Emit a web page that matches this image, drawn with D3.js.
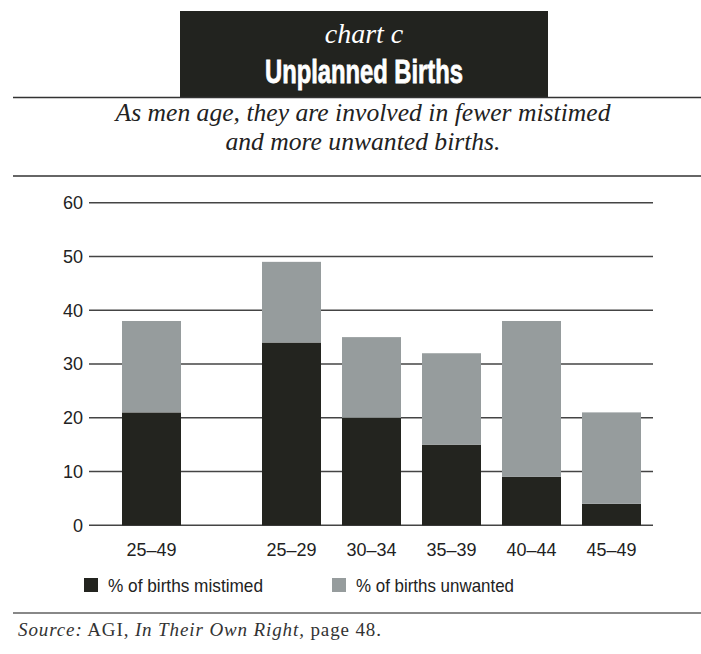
<html lang="en">
<head>
    <meta charset="UTF-8">
    <title>Unplanned Births</title>
    <script src="https://d3js.org/d3.v7.min.js"></script>
    <style>
        body, html {
            margin: 0;
            padding: 0;
            background: #fff;
        }
        .serif { font-family: "Liberation Serif", "Times New Roman", Times, "Noto Serif", serif; }
        .sans { font-family: "Liberation Sans", Arial, sans-serif; }
    </style>
</head>
<body>
<div id="chart"></div>
<script>
    // data
    const ageGroups = ["25–49", "25–29", "30–34", "35–39", "40–44", "45–49"];
    const mistimed = [21, 34, 20, 15, 9, 4];
    const unwanted = [17, 15, 15, 17, 29, 17];
    const yTicks = [0, 10, 20, 30, 40, 50, 60];
    const seriesNames = ["% of births mistimed", "% of births unwanted"];
    const seriesColors = ["#23241f", "#969c9d"];

    const width = 701, height = 654;
    const svg = d3.select("#chart").append("svg")
        .attr("width", width)
        .attr("height", height);

    // header box
    svg.append("rect")
        .attr("x", 180).attr("y", 11)
        .attr("width", 368).attr("height", 86)
        .attr("fill", "#22231f");
    svg.append("text")
        .attr("class", "serif")
        .attr("x", 364).attr("y", 43)
        .attr("text-anchor", "middle")
        .attr("font-style", "italic")
        .attr("font-size", 28)
        .attr("fill", "#fff")
        .text("chart c");
    svg.append("text")
        .attr("class", "sans")
        .attr("x", 364).attr("y", 83)
        .attr("text-anchor", "middle")
        .attr("font-weight", "bold")
        .attr("font-size", 34)
        .attr("textLength", 198)
        .attr("lengthAdjust", "spacingAndGlyphs")
        .attr("fill", "#fff")
        .attr("stroke", "#fff")
        .attr("stroke-width", 0.8)
        .text("Unplanned Births");

    // rules
    svg.append("line")
        .attr("x1", 13).attr("x2", width).attr("y1", 97.5).attr("y2", 97.5)
        .attr("stroke", "#333").attr("stroke-width", 1.5);
    svg.append("line")
        .attr("x1", 13).attr("x2", width).attr("y1", 176).attr("y2", 176)
        .attr("stroke", "#333").attr("stroke-width", 1.5);
    svg.append("line")
        .attr("x1", 13).attr("x2", width).attr("y1", 613).attr("y2", 613)
        .attr("stroke", "#888").attr("stroke-width", 2);

    // subtitle
    const subLines = ["As men age, they are involved in fewer mistimed", "and more unwanted births."];
    const subWidths = [495, 275];
    svg.selectAll(".sub")
        .data(subLines)
        .enter().append("text")
        .attr("class", "sub serif")
        .attr("x", 363)
        .attr("y", (d, i) => 121 + i * 29)
        .attr("text-anchor", "middle")
        .attr("font-style", "italic")
        .attr("font-size", 25)
        .attr("fill", "#222")
        .attr("textLength", (d, i) => subWidths[i])
        .attr("lengthAdjust", "spacingAndGlyphs")
        .text(d => d);

    // scales
    const y = d3.scaleLinear().domain([0, 60]).range([525.3, 202.7]);
    const x = d3.scaleBand().domain(ageGroups).range([0, 459]).paddingInner(21 / 80);
    const groupGap = 60;
    const barX = (d, i) => 122 + x(d) + (i > 0 ? groupGap : 0);

    // gridlines + y labels
    const grid = svg.append("g");
    grid.selectAll("line")
        .data(yTicks)
        .enter().append("line")
        .attr("x1", 89).attr("x2", 653)
        .attr("y1", d => y(d)).attr("y2", d => y(d))
        .attr("stroke", "#444").attr("stroke-width", 1.5);
    grid.selectAll("text")
        .data(yTicks)
        .enter().append("text")
        .attr("class", "sans")
        .attr("x", 83)
        .attr("y", d => y(d))
        .attr("dy", "0.36em")
        .attr("text-anchor", "end")
        .attr("font-size", 18)
        .attr("fill", "#222")
        .text(d => d);

    // stacked bars
    const stackData = ageGroups.map((g, i) => ({ group: g, mistimed: mistimed[i], unwanted: unwanted[i] }));
    const stack = d3.stack().keys(["mistimed", "unwanted"]);
    const layers = stack(stackData);

    svg.selectAll(".layer")
        .data(layers)
        .enter().append("g")
        .attr("class", "layer")
        .attr("fill", (d, i) => seriesColors[i])
        .selectAll("rect")
        .data(d => d)
        .enter().append("rect")
        .attr("x", (d, i) => barX(d.data.group, i))
        .attr("y", d => y(d[1]))
        .attr("width", x.bandwidth())
        .attr("height", d => y(d[0]) - y(d[1]));

    // x labels
    svg.selectAll(".xlab")
        .data(ageGroups)
        .enter().append("text")
        .attr("class", "xlab sans")
        .attr("x", (d, i) => barX(d, i) + x.bandwidth() / 2)
        .attr("y", 556)
        .attr("text-anchor", "middle")
        .attr("font-size", 18)
        .attr("fill", "#222")
        .text(d => d);

    // legend
    const legendX = [84, 332];
    const legendW = [155, 158];
    const legend = svg.selectAll(".legend")
        .data(seriesNames)
        .enter().append("g")
        .attr("class", "legend")
        .attr("transform", (d, i) => `translate(${legendX[i]},578)`);
    legend.append("rect")
        .attr("width", 14).attr("height", 14)
        .attr("fill", (d, i) => seriesColors[i]);
    legend.append("text")
        .attr("class", "sans")
        .attr("x", 24).attr("y", 14)
        .attr("font-size", 19)
        .attr("textLength", (d, i) => legendW[i])
        .attr("lengthAdjust", "spacingAndGlyphs")
        .attr("fill", "#222")
        .text(d => d);

    // source
    const src = svg.append("text")
        .attr("class", "serif")
        .attr("x", 18).attr("y", 636)
        .attr("font-size", 19)
        .attr("textLength", 363)
        .attr("lengthAdjust", "spacing")
        .attr("fill", "#333");
    src.append("tspan").attr("font-style", "italic").text("Source:");
    src.append("tspan").text(" AGI, ");
    src.append("tspan").attr("font-style", "italic").text("In Their Own Right,");
    src.append("tspan").text(" page 48.");
</script>
</body>
</html>
